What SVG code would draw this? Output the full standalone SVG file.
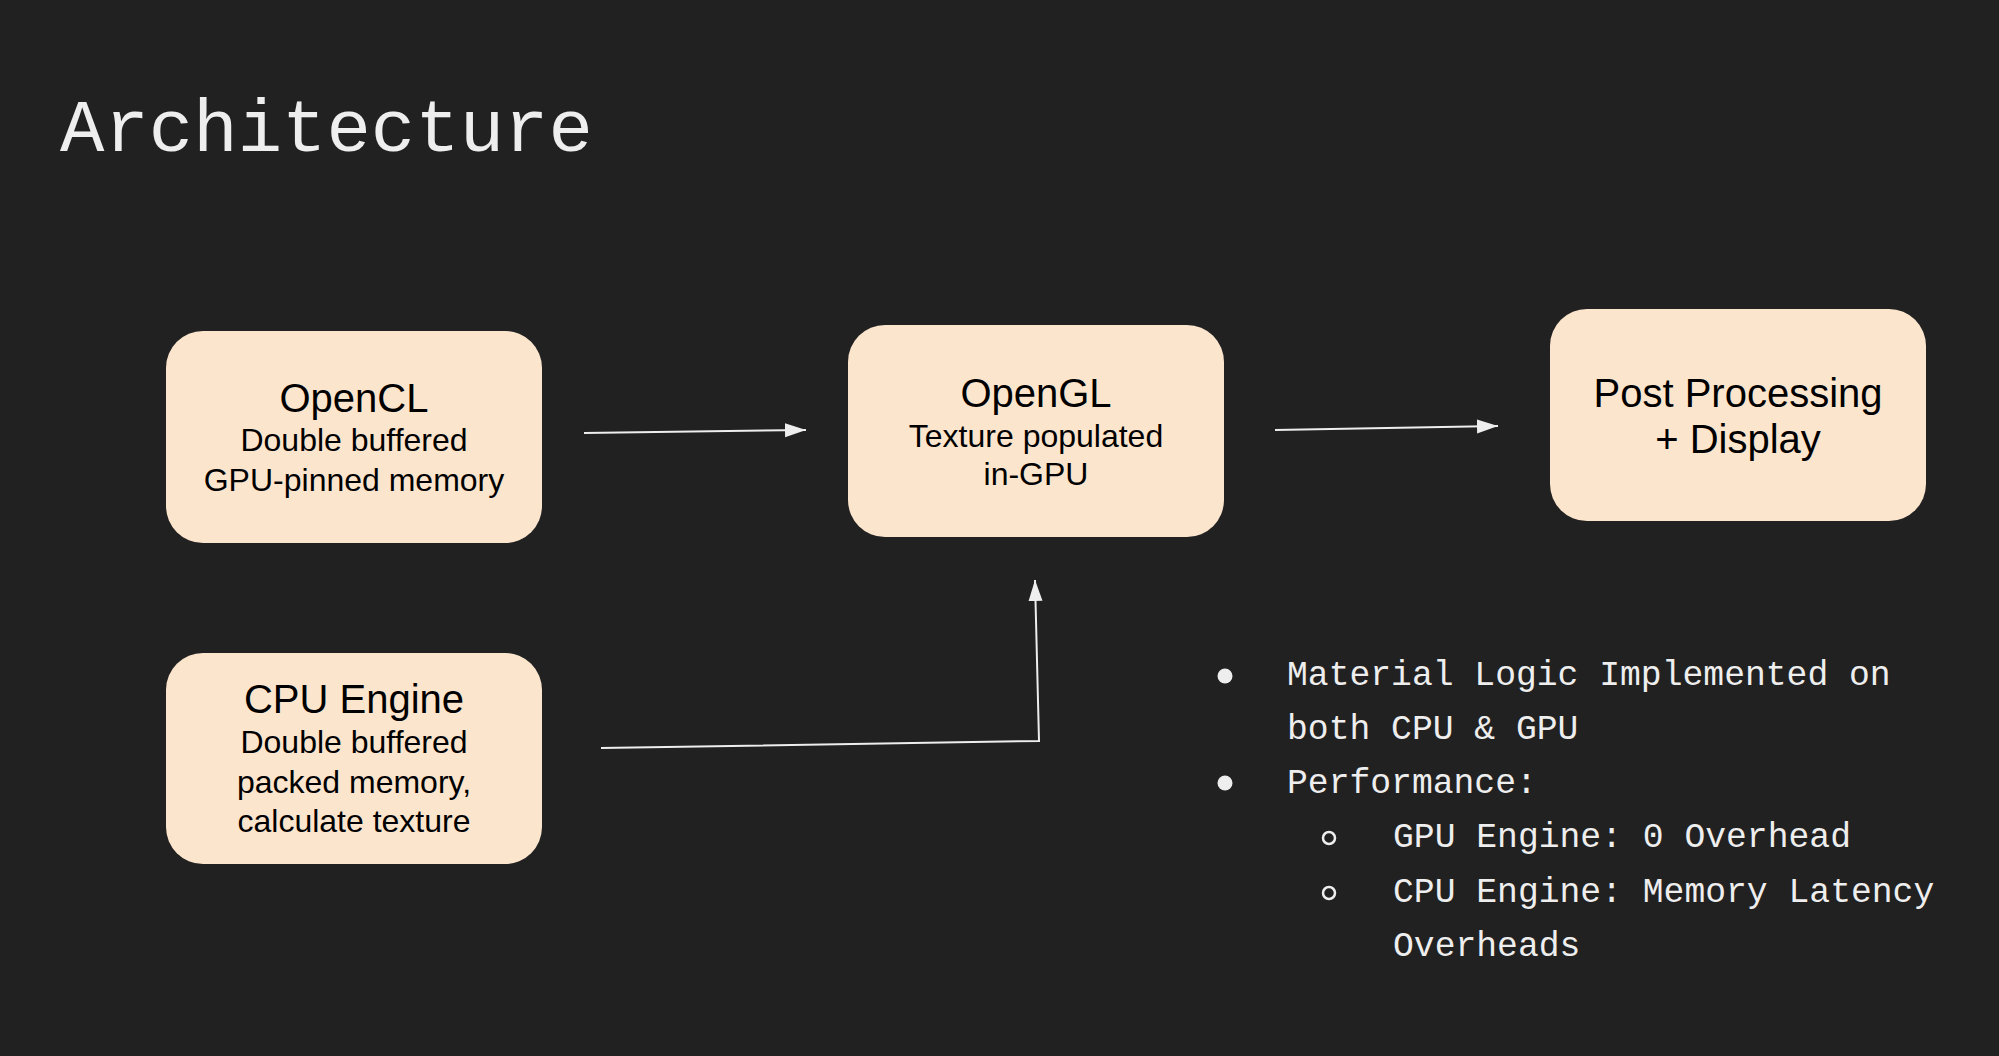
<svg xmlns="http://www.w3.org/2000/svg" width="1999" height="1056" viewBox="0 0 1999 1056">
<defs>
<style>
.bg{fill:#212121}
.box{fill:#fce5cd}
.t1{font-family:"Liberation Sans",Arial,sans-serif;font-size:40px;fill:#000;text-anchor:middle}
.t2{font-family:"Liberation Sans",Arial,sans-serif;font-size:32px;fill:#000;text-anchor:middle}
.mono{font-family:"Liberation Mono","Courier New",monospace;fill:#eeeeee}
.title{font-size:74px}
.bul{font-size:34.7px}
.conn{fill:none;stroke:#eeeeee;stroke-width:2}
</style>
<marker id="arr" markerUnits="userSpaceOnUse" markerWidth="24" markerHeight="18" refX="21" refY="7" orient="auto">
<path d="M0,0 L21,7 L0,14 Z" fill="#eeeeee"/>
</marker>
</defs>
<rect class="bg" x="0" y="0" width="1999" height="1056"/>
<text id="title" class="mono title" x="60" y="151">Architecture</text>

<g id="connectors">
<path class="conn" d="M584,433 L806,430" marker-end="url(#arr)"/>
<path class="conn" d="M1275,430 L1498,426" marker-end="url(#arr)"/>
<path class="conn" d="M601,748 L1039,741 L1035,580" marker-end="url(#arr)"/>
</g>

<g id="opencl">
<rect class="box" x="166" y="331" width="376" height="212" rx="37"/>
<text class="t1" x="354" y="412">OpenCL</text>
<text class="t2" x="354" y="451">Double buffered</text>
<text class="t2" x="354" y="491">GPU-pinned memory</text>
</g>

<g id="opengl">
<rect class="box" x="848" y="325" width="376" height="212" rx="37"/>
<text class="t1" x="1036" y="407">OpenGL</text>
<text class="t2" x="1036" y="447">Texture populated</text>
<text class="t2" x="1036" y="485">in-GPU</text>
</g>

<g id="post">
<rect class="box" x="1550" y="309" width="376" height="212" rx="37"/>
<text class="t1" x="1738" y="407">Post Processing</text>
<text class="t1" x="1738" y="453">+ Display</text>
</g>

<g id="cpu">
<rect class="box" x="166" y="653" width="376" height="211" rx="37"/>
<text class="t1" x="354" y="713">CPU Engine</text>
<text class="t2" x="354" y="753">Double buffered</text>
<text class="t2" x="354" y="793">packed memory,</text>
<text class="t2" x="354" y="832">calculate texture</text>
</g>

<g id="notes">
<circle cx="1225" cy="676" r="7.5" fill="#eeeeee"/>
<circle cx="1225" cy="783" r="7.5" fill="#eeeeee"/>
<circle cx="1329" cy="838" r="6" fill="none" stroke="#eeeeee" stroke-width="2.5"/>
<circle cx="1329" cy="893" r="6" fill="none" stroke="#eeeeee" stroke-width="2.5"/>
<text class="mono bul" x="1287" y="685">Material Logic Implemented on</text>
<text class="mono bul" x="1287" y="739">both CPU &amp; GPU</text>
<text class="mono bul" x="1287" y="793">Performance:</text>
<text class="mono bul" x="1393" y="847">GPU Engine: 0 Overhead</text>
<text class="mono bul" x="1393" y="902">CPU Engine: Memory Latency</text>
<text class="mono bul" x="1393" y="956">Overheads</text>
</g>
</svg>
